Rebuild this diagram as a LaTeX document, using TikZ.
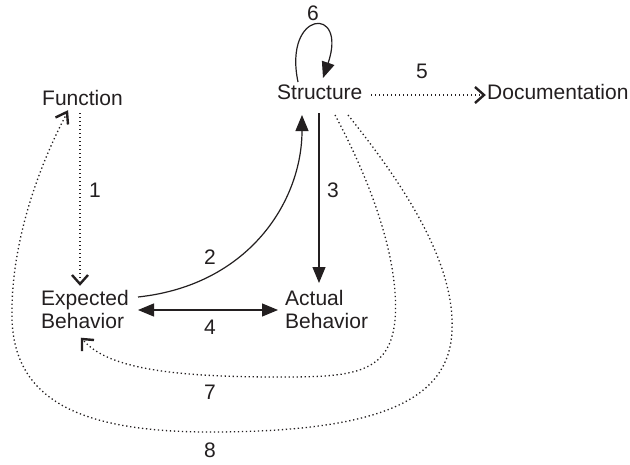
\documentclass[tikz,border=0pt]{standalone}
\usepackage{fontspec}
\setmainfont{Liberation Sans}
\usetikzlibrary{arrows.meta,calc}
\definecolor{ink}{RGB}{35,31,32}
\begin{document}
\begin{tikzpicture}[x=1pt,y=-1pt,
  lbl/.style={inner sep=0pt,anchor=base west,align=left,text=ink,font=\fontsize{21}{23}\selectfont},
  num/.style={inner sep=0pt,text=ink,font=\fontsize{21}{23}\selectfont},
  solidarrow/.style={draw=ink,line width=1.2pt,-{Triangle[length=16pt,width=13pt]}},
  dotline/.style={draw=ink,line width=1.3pt,dash pattern=on 1.3pt off 2.7pt},
  chev/.style={draw=ink,solid,line width=2.4pt,line join=miter,miter limit=10,line cap=butt}]
\useasboundingbox (0,0) rectangle (630,464);
\fill[white] (0,0) rectangle (630,464);

\node[lbl] (func) at (42,105) {Function};
\node[lbl] (struct) at (277,99) {Structure};
\node[lbl] (doc) at (487,99) {Documentation};
\node[lbl] (exp) at (41,328) {Expected\\Behavior};
\node[lbl] (act) at (285,328) {Actual\\Behavior};

\coordinate (t1) at ($(exp.base west)+(39,-44)$);
\coordinate (t5) at ($(doc.base west)+(-3,-4)$);
\coordinate (t7) at ($(exp.base west)+(41,11)$);
\coordinate (t8) at ($(func.base west)+(25,7)$);

% 1
\draw[dotline] ($(func.base west)+(38,8)$) -- ($(t1)+(0,-3)$);
\draw[chev] ($(t1)+(-8,-9)$) -- (t1) -- ($(t1)+(8,-9)$);
\node[num] (n1) at (95,190) {1};
% 2
\draw[solidarrow] ($(exp.base west)+(97,-31)$) .. controls (250,285) and (302,200) .. ($(struct.base west)+(25,16)$);
\node[num] (n2) at (210,257) {2};
% 3
\draw[solidarrow] ($(struct.base west)+(42,14)$) -- ($(act.base west)+(34,-45)$);
\node[num] (n3) at (333,190) {3};
% 4
\draw[solidarrow,{Triangle[length=16pt,width=13pt]}-{Triangle[length=16pt,width=13pt]}] ($(exp.base west)+(97,-18)$) -- ($(act.base west)+(-7,-18)$);
\node[num] (n4) at (210,327) {4};
% 5
\draw[dotline] ($(struct.base west)+(94,-4)$) -- ($(t5)+(-3,0)$);
\draw[chev] ($(t5)+(-9,-8)$) -- (t5) -- ($(t5)+(-9,8)$);
\node[num] (n5) at (422,71) {5};
% 6
\draw[solidarrow] ($(struct.base west)+(21,-17)$) .. controls (283,10) and (348,5) .. ($(struct.base west)+(46,-21)$);
\node[num] (n6) at (313,13) {6};
% 7
\draw[dotline] ($(struct.base west)+(58,16)$) .. controls (370,180) and (400,260) .. (395,320)
  .. controls (390,375) and (350,377) .. (280,377)
  .. controls (180,377) and (110,370) .. ($(t7)+(2,2)$);
\draw[chev] ($(t7)+(12,1)$) -- (t7) -- ($(t7)+(0,12)$);
\node[num] (n7) at (210,392) {7};
% 8
\draw[dotline] ($(struct.base west)+(71,16)$) .. controls (400,180) and (455,260) .. (452,330)
  .. controls (450,400) and (380,432) .. (210,432)
  .. controls (80,432) and (15,400) .. (12,320)
  .. controls (10,240) and (42,160) .. ($(t8)+(-1,3)$);
\draw[chev] ($(t8)+(1,12.5)$) -- (t8) -- ($(t8)+(-11.5,5.5)$);
\node[num] (n8) at (210,450) {8};
\end{tikzpicture}
\end{document}
